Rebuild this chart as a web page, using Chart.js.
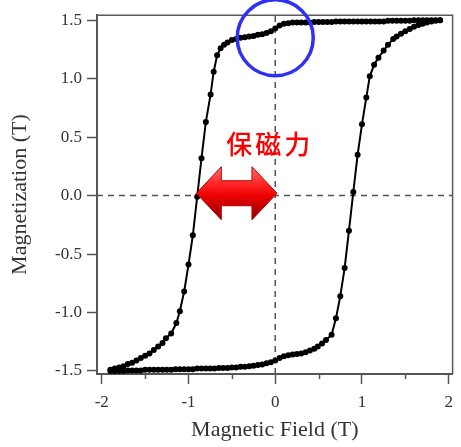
<!DOCTYPE html>
<html><head><meta charset="utf-8">
<script src="https://cdn.jsdelivr.net/npm/chart.js@4.4.0/dist/chart.umd.min.js"></script>
<style>html,body{margin:0;padding:0;background:#fff;}#wrap{width:461px;height:447px;}</style>
</head><body><div id="wrap"><canvas id="c" width="461" height="447"></canvas></div>
<script>
// Descending-field branch (from +1.9 T to -1.9 T)
const fieldDown = [1.90,1.85,1.80,1.75,1.70,1.65,1.60,1.55,1.50,1.45,1.40,1.35,1.30,1.25,1.20,1.15,1.10,1.05,1.00,0.95,0.90,0.85,0.80,0.75,0.70,0.65,0.60,0.55,0.50,0.45,0.40,0.35,0.30,0.25,0.20,0.15,0.10,0.05,0.00,-0.05,-0.10,-0.15,-0.20,-0.25,-0.30,-0.35,-0.40,-0.45,-0.50,-0.55,-0.59,-0.63,-0.67,-0.71,-0.745,-0.80,-0.85,-0.90,-0.95,-1.00,-1.05,-1.10,-1.14,-1.20,-1.26,-1.30,-1.35,-1.40,-1.45,-1.50,-1.55,-1.60,-1.65,-1.70,-1.75,-1.80,-1.85,-1.90];
const magDown = [1.50,1.50,1.50,1.50,1.50,1.50,1.50,1.495,1.495,1.495,1.495,1.495,1.495,1.49,1.49,1.49,1.49,1.49,1.49,1.49,1.49,1.49,1.49,1.49,1.49,1.485,1.485,1.485,1.485,1.485,1.48,1.48,1.48,1.48,1.48,1.475,1.47,1.455,1.43,1.405,1.39,1.38,1.375,1.365,1.36,1.355,1.35,1.34,1.33,1.31,1.29,1.26,1.20,1.06,0.865,0.63,0.32,-0.01,-0.34,-0.59,-0.82,-0.99,-1.09,-1.18,-1.22,-1.26,-1.29,-1.32,-1.35,-1.37,-1.39,-1.41,-1.43,-1.44,-1.46,-1.47,-1.48,-1.49];
// Ascending-field branch (from -1.9 T to +1.9 T)
const fieldUp = [-1.90,-1.85,-1.80,-1.75,-1.70,-1.65,-1.60,-1.55,-1.50,-1.45,-1.40,-1.35,-1.30,-1.25,-1.20,-1.15,-1.10,-1.05,-1.00,-0.95,-0.90,-0.85,-0.80,-0.75,-0.70,-0.65,-0.60,-0.55,-0.50,-0.45,-0.40,-0.35,-0.30,-0.25,-0.20,-0.15,-0.10,-0.05,0.00,0.05,0.10,0.15,0.20,0.25,0.30,0.35,0.40,0.45,0.49,0.54,0.585,0.65,0.70,0.75,0.80,0.85,0.90,0.95,1.00,1.05,1.09,1.14,1.19,1.25,1.30,1.36,1.40,1.45,1.50,1.55,1.60,1.65,1.70,1.75,1.80,1.85,1.90];
const magUp = [-1.50,-1.50,-1.50,-1.50,-1.495,-1.495,-1.495,-1.495,-1.49,-1.49,-1.49,-1.49,-1.49,-1.49,-1.49,-1.485,-1.485,-1.485,-1.485,-1.485,-1.48,-1.48,-1.48,-1.48,-1.48,-1.475,-1.475,-1.475,-1.47,-1.47,-1.465,-1.465,-1.46,-1.455,-1.45,-1.445,-1.435,-1.425,-1.41,-1.39,-1.375,-1.365,-1.36,-1.355,-1.35,-1.34,-1.325,-1.31,-1.29,-1.265,-1.235,-1.19,-1.05,-0.86,-0.62,-0.30,0.03,0.35,0.61,0.84,1.02,1.12,1.18,1.24,1.29,1.34,1.36,1.385,1.405,1.425,1.445,1.46,1.47,1.48,1.49,1.495,1.50];

const xTicks = [-2, -1, 0, 1, 2];
const xMinorTicks = [-1.5, -0.5, 0.5, 1.5];
const yTicks = [-1.5, -1.0, -0.5, 0.0, 0.5, 1.0, 1.5];
const xRange = [-2.055, 2.045];
const yRange = [-1.526, 1.543];
const xTitle = 'Magnetic Field (T)';
const yTitle = 'Magnetization (T)';
const coerciveLabel = '保磁力';
const coerciveArrowX = [-0.91, 0.02];
const coerciveArrowY = 0.02;
const labelPos = [-0.08, 0.44];
const circlePos = [0.0, 1.35];

const pts = (xs, ys) => xs.map((x, i) => ({x: x, y: ys[i]}));
const serif = '"Liberation Serif", "Times New Roman", serif';

const overlay = {
  id: 'overlay',
  afterDraw(chart) {
    const ctx = chart.ctx, xs = chart.scales.x, ys = chart.scales.y, a = chart.chartArea;
    ctx.save();
    // frame top/right
    ctx.strokeStyle = '#5a5a5a'; ctx.lineWidth = 1.5;
    ctx.beginPath();
    ctx.moveTo(a.left, a.top); ctx.lineTo(a.right, a.top); ctx.lineTo(a.right, a.bottom);
    ctx.stroke();
    // minor ticks on x
    ctx.strokeStyle = '#555'; ctx.lineWidth = 1.5;
    xMinorTicks.forEach(v => {
      const px = Math.round(xs.getPixelForValue(v)) + 0.5;
      ctx.beginPath(); ctx.moveTo(px, a.bottom); ctx.lineTo(px, a.bottom + 5); ctx.stroke();
    });
    // blue circle
    ctx.strokeStyle = '#3030f2'; ctx.lineWidth = 3.5;
    ctx.beginPath();
    ctx.arc(xs.getPixelForValue(circlePos[0]), ys.getPixelForValue(circlePos[1]), 38, 0, Math.PI * 2);
    ctx.stroke();
    // red double arrow
    const x1 = xs.getPixelForValue(coerciveArrowX[0]);
    const x2 = xs.getPixelForValue(coerciveArrowX[1]);
    const yc = ys.getPixelForValue(coerciveArrowY);
    const hl = 25, hh = 26.5, sh = 12.5;
    const g = ctx.createLinearGradient(0, yc - hh, 0, yc + hh);
    g.addColorStop(0, '#ff7070');
    g.addColorStop(0.3, '#ff2a2a');
    g.addColorStop(0.55, '#ee0000');
    g.addColorStop(1, '#8c0000');
    ctx.beginPath();
    ctx.moveTo(x1, yc);
    ctx.lineTo(x1 + hl, yc - hh);
    ctx.lineTo(x1 + hl, yc - sh);
    ctx.lineTo(x2 - hl, yc - sh);
    ctx.lineTo(x2 - hl, yc - hh);
    ctx.lineTo(x2, yc);
    ctx.lineTo(x2 - hl, yc + hh);
    ctx.lineTo(x2 - hl, yc + sh);
    ctx.lineTo(x1 + hl, yc + sh);
    ctx.lineTo(x1 + hl, yc + hh);
    ctx.closePath();
    ctx.fillStyle = g; ctx.fill();
    ctx.strokeStyle = '#b00000'; ctx.lineWidth = 1; ctx.stroke();
    // label
    ctx.fillStyle = '#ff0000';
    ctx.font = '500 26px "Noto Sans CJK JP"';
    ctx.textAlign = 'center'; ctx.textBaseline = 'middle';
    const lx = xs.getPixelForValue(labelPos[0]), ly = ys.getPixelForValue(labelPos[1]);
    const chars = Array.from(coerciveLabel);
    chars.forEach((ch, i) => ctx.fillText(ch, lx + (i - (chars.length - 1) / 2) * 29, ly));
    ctx.restore();
  }
};

new Chart(document.getElementById('c'), {
  type: 'scatter',
  data: {
    datasets: [
      {data: pts(fieldDown, magDown), showLine: true, borderColor: '#000', borderWidth: 2, pointRadius: 3, pointBackgroundColor: '#000', pointBorderWidth: 0, order: 0},
      {data: pts(fieldUp, magUp), showLine: true, borderColor: '#000', borderWidth: 2, pointRadius: 3, pointBackgroundColor: '#000', pointBorderWidth: 0, order: 0},
      {data: [{x: xRange[0], y: 0}, {x: xRange[1], y: 0}], showLine: true, borderColor: '#555', borderWidth: 1.5, borderDash: [6, 5], pointRadius: 0, order: 2},
      {data: [{x: 0, y: yRange[0]}, {x: 0, y: yRange[1]}], showLine: true, borderColor: '#555', borderWidth: 1.5, borderDash: [6, 5], pointRadius: 0, order: 2}
    ]
  },
  options: {
    responsive: false,
    animation: false,
    devicePixelRatio: 1,
    layout: {padding: {left: 0, right: 4, top: 15, bottom: 0}},
    plugins: {legend: {display: false}, tooltip: {enabled: false}},
    scales: {
      x: {
        type: 'linear', min: xRange[0], max: xRange[1],
        afterBuildTicks: s => { s.ticks = xTicks.map(v => ({value: v})); },
        afterFit: s => { s.height = 73; },
        ticks: {font: {family: serif, size: 17}, color: '#333', padding: 8, maxRotation: 0, callback: v => String(v)},
        grid: {drawOnChartArea: false, drawTicks: true, tickLength: 10, tickColor: '#555', tickWidth: 1.5},
        border: {color: '#555', width: 2},
        title: {display: true, text: xTitle, font: {family: serif, size: 22}, color: '#333', padding: {top: 0, bottom: 4}}
      },
      y: {
        type: 'linear', min: yRange[0], max: yRange[1],
        afterBuildTicks: s => { s.ticks = yTicks.map(v => ({value: v})); },
        afterFit: s => { s.width = 97; },
        ticks: {font: {family: serif, size: 17}, color: '#333', padding: 5, callback: v => Number(v).toFixed(1)},
        grid: {drawOnChartArea: false, drawTicks: true, tickLength: 10, tickColor: '#555', tickWidth: 1.5},
        border: {color: '#555', width: 2},
        title: {display: true, text: yTitle, font: {family: serif, size: 22}, color: '#333', padding: {top: 7, bottom: 0}}
      }
    }
  },
  plugins: [overlay]
});
</script>
</body></html>
